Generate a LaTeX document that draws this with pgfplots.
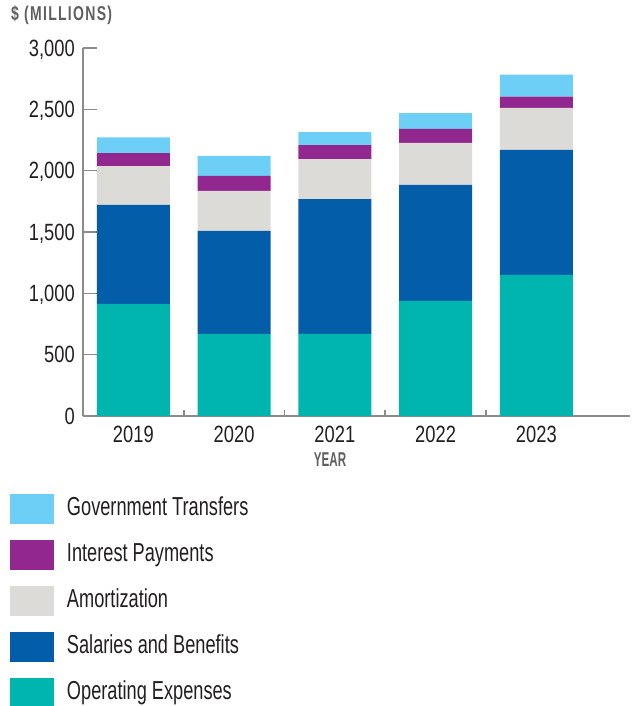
\documentclass[border=0pt]{standalone}
\usepackage{fontspec}
\setmainfont{Liberation Sans}[FakeStretch=0.70]
\newfontfamily\numfont{Liberation Sans}[FakeStretch=0.78]
\newfontfamily\labfont{Liberation Sans}[FakeStretch=0.70,LetterSpace=6.5]
\newfontfamily\yearfont{Liberation Sans}[FakeStretch=0.58]
\usepackage{pgfplots}
\usepackage{pgfplotstable}
\pgfplotsset{compat=1.18}
\definecolor{gov}{HTML}{6DCFF6}
\definecolor{intr}{HTML}{92278F}
\definecolor{amort}{HTML}{DCDBD7}
\definecolor{sal}{HTML}{035DA8}
\definecolor{oper}{HTML}{00B5AD}
\definecolor{txt}{HTML}{231F20}
\definecolor{lab}{HTML}{5E5F61}
\definecolor{axl}{HTML}{8C8C8C}
\pgfplotsset{sqleg/.style={legend image code/.code={\fill[##1] (0pt,-14.6pt) rectangle (44pt,15.4pt);}}}
\pgfplotstableread{
x op sal amort intr gov
0 914 807 317 106 128
1 669 840 326 122 163
2 669 1099 327 114 106
3 939 945 342 114 130
4 1150 1019 342 92 179
}\data
\begin{document}
\begin{tikzpicture}
\path[use as bounding box] (-83pt,-290pt) rectangle (549pt,416pt);
\begin{axis}[
  scale only axis, width=547pt, height=368pt, at={(0pt,0pt)}, anchor=south west,
  xmin=-0.5, xmax=4.93, ymin=0, ymax=3000,
  ybar stacked, bar width=0.724,
  axis x line*=bottom, axis y line*=left,
  axis line style={axl, line width=1.6pt},
  xtick={0,1,2,3,4}, xticklabels={2019,2020,2021,2022,2023},
  major x tick style={draw=none},
  minor xtick={0.5,1.5,2.5,3.5}, minor tick length=6pt,
  minor x tick style={axl, line width=1.6pt},
  ytick={0,500,1000,1500,2000,2500,3000}, major tick length=14pt,
  major y tick style={axl, line width=1.6pt},
  tick align=inside,
  scaled y ticks=false,
  /pgf/number format/assume math mode=true,
  /pgf/number format/1000 sep={,},
  ticklabel style={font=\numfont\fontsize{23.5}{23.5}\selectfont, text=txt},
  yticklabel style={anchor=base east, inner sep=0pt, xshift=-8pt, yshift=-8pt},
  xticklabel style={anchor=base, inner sep=0pt, yshift=-26pt},
  xlabel={YEAR},
  xlabel style={font=\yearfont\bfseries\fontsize{20}{20}\selectfont, text=lab, at={(axis description cs:0.4516,-0.1359)}, anchor=base, inner sep=0pt},
  title={\$ (MILLIONS)},
  title style={at={(axis description cs:-0.1316,1.058)}, anchor=base west, inner sep=0pt, font=\labfont\bfseries\fontsize{20}{20}\selectfont, text=lab},
  legend style={at={(axis description cs:-0.1335,-0.212)}, anchor=north west, draw=none, fill=none, inner sep=0pt, outer sep=0pt, row sep=16pt, font=\fontsize{26}{26}\selectfont, text=txt, nodes={inner sep=0pt, text height=19pt, text depth=6pt}, /tikz/every odd column/.append style={column sep=13pt}},
  legend cell align=left,
  reverse legend,
]
\addplot[fill=oper, draw=none, sqleg] table[x=x,y=op]{\data};
\addlegendentry{Operating Expenses}
\addplot[fill=sal, draw=none, sqleg] table[x=x,y=sal]{\data};
\addlegendentry{Salaries and Benefits}
\addplot[fill=amort, draw=none, sqleg] table[x=x,y=amort]{\data};
\addlegendentry{Amortization}
\addplot[fill=intr, draw=none, sqleg] table[x=x,y=intr]{\data};
\addlegendentry{Interest Payments}
\addplot[fill=gov, draw=none, sqleg] table[x=x,y=gov]{\data};
\addlegendentry{Government Transfers}
\end{axis}
\end{tikzpicture}
\end{document}
